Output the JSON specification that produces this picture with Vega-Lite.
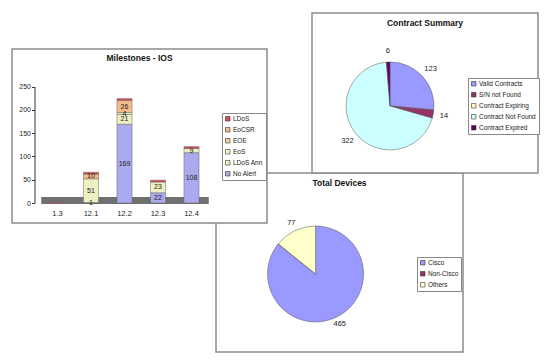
{
  "$schema": "https://vega.github.io/schema/vega-lite/v6.json",
  "padding": {"left": 11, "top": 12, "right": 0, "bottom": 0},
  "background": "white",
  "config": {"view": {"stroke": null}, "font": "Liberation Sans"},
  "columns": 3,
  "align": "none",
  "bounds": "flush",
  "spacing": {"row": -303, "column": -151},
  "resolve": {
    "scale": {"color": "independent", "theta": "independent", "x": "independent", "y": "independent"},
    "legend": {"color": "independent"}
  },
  "concat": [
    {"width": 355, "height": 1, "data": {"values": []}, "mark": "point", "encoding": {}},
    {
      "width": 247,
      "height": 179,
      "view": {"fill": "white", "stroke": "#8c8c8c", "strokeWidth": 1.5},
      "title": {"text": "Total Devices", "offset": -14.5, "frame": "group", "fontSize": 8.5, "fontWeight": "bold", "font": "Liberation Sans", "color": "#111"},
      "data": {"values": [
        {"device": "Cisco", "count": 465, "rank": 1},
        {"device": "Non-Cisco", "count": 0, "rank": 2},
        {"device": "Others", "count": 77, "rank": 3}
      ]},
      "encoding": {
        "theta": {"field": "count", "type": "quantitative", "stack": true},
        "order": {"field": "rank", "type": "quantitative"},
        "x": {"datum": "Total Devices", "type": "nominal", "scale": {"type": "point", "padding": 0, "align": 0.403}, "axis": null},
        "y": {"datum": "Total Devices", "type": "nominal", "scale": {"type": "point", "padding": 0, "align": 0.564}, "axis": null}
      },
      "layer": [
        {
          "mark": {"type": "arc", "outerRadius": 48, "stroke": "#555", "strokeWidth": 0.5},
          "encoding": {
            "color": {
              "field": "device", "type": "nominal",
              "scale": {"domain": ["Cisco", "Non-Cisco", "Others"], "range": ["#9999FF", "#993366", "#FFFFCC"]},
              "legend": {"title": null, "orient": "none", "legendX": 201, "legendY": 84, "symbolType": "square", "symbolSize": 20, "symbolStrokeColor": "#333", "symbolStrokeWidth": 0.6, "labelFontSize": 6.5, "labelFont": "Liberation Sans", "labelColor": "#222", "strokeColor": "#888", "fillColor": "white", "padding": 2.5, "rowPadding": 3, "labelOffset": 2}
            }
          }
        },
        {
          "transform": [{"filter": "datum.count > 0"}],
          "mark": {"type": "text", "radius": 56, "fontSize": 7.5, "color": "#222", "font": "Liberation Sans"},
          "encoding": {"text": {"field": "count", "type": "quantitative"}}
        }
      ]
    },
    {"width": 1, "height": 1, "data": {"values": []}, "mark": "point", "encoding": {}},
    {
      "width": 255,
      "height": 174,
      "view": {"fill": "white", "stroke": "#8c8c8c", "strokeWidth": 1.5},
      "title": {"text": "Milestones - IOS", "offset": -13.5, "frame": "group", "fontSize": 8.5, "fontWeight": "bold", "font": "Liberation Sans", "color": "#111"},
      "data": {"values": [
        {"version": "1.3", "status": "LDoS", "count": 2, "rank": 6},
        {"version": "12.1", "status": "No Alert", "count": 1, "rank": 1},
        {"version": "12.1", "status": "LDoS Ann", "count": 51, "rank": 2},
        {"version": "12.1", "status": "EoCSR", "count": 10, "rank": 5},
        {"version": "12.1", "status": "LDoS", "count": 4, "rank": 6},
        {"version": "12.2", "status": "No Alert", "count": 169, "rank": 1},
        {"version": "12.2", "status": "LDoS Ann", "count": 21, "rank": 2},
        {"version": "12.2", "status": "EoS", "count": 4, "rank": 3},
        {"version": "12.2", "status": "EoCSR", "count": 26, "rank": 5},
        {"version": "12.2", "status": "LDoS", "count": 4, "rank": 6},
        {"version": "12.3", "status": "No Alert", "count": 22, "rank": 1},
        {"version": "12.3", "status": "LDoS Ann", "count": 23, "rank": 2},
        {"version": "12.3", "status": "LDoS", "count": 4, "rank": 6},
        {"version": "12.4", "status": "No Alert", "count": 108, "rank": 1},
        {"version": "12.4", "status": "LDoS Ann", "count": 9, "rank": 2},
        {"version": "12.4", "status": "LDoS", "count": 4, "rank": 6}
      ]},
      "encoding": {
        "x": {
          "field": "version", "type": "nominal", "sort": ["1.3", "12.1", "12.2", "12.3", "12.4"],
          "scale": {"range": [28.75, 196.25], "paddingInner": 0.55, "paddingOuter": 0.275},
          "axis": {"title": null, "labelAngle": 0, "offset": -23, "domainColor": "#707070", "domainWidth": 7, "ticks": false, "labelPadding": 9, "labelFontSize": 7.5, "labelColor": "#222", "labelFont": "Liberation Sans"}
        }
      },
      "layer": [
        {
          "mark": {"type": "bar", "stroke": "#666", "strokeWidth": 0.5},
          "encoding": {
            "y": {
              "field": "count", "type": "quantitative", "stack": "zero",
              "scale": {"domain": [0, 250], "range": [154, 37.5], "nice": false},
              "axis": {"title": null, "values": [0, 50, 100, 150, 200, 250], "tickCount": 6, "labelOverlap": false, "offset": -22.5, "grid": false, "tickSize": 3, "labelPadding": 1, "labelFontSize": 7, "labelFont": "Liberation Sans", "domainColor": "#333", "tickColor": "#333", "labelColor": "#222"}
            },
            "color": {
              "field": "status", "type": "nominal",
              "scale": {"domain": ["LDoS", "EoCSR", "EOE", "EoS", "LDoS Ann", "No Alert"], "range": ["#E34A5A", "#F2BC88", "#F7CF9E", "#F6F6CC", "#EEF0C2", "#AAAAEE"]},
              "legend": {"title": null, "orient": "none", "legendX": 210, "legendY": 64, "symbolType": "square", "symbolSize": 20, "symbolStrokeColor": "#333", "symbolStrokeWidth": 0.6, "labelFontSize": 6.5, "labelFont": "Liberation Sans", "labelColor": "#222", "strokeColor": "#888", "fillColor": "white", "padding": 2.5, "rowPadding": 3, "labelOffset": 2}
            },
            "order": {"field": "rank", "type": "quantitative"}
          }
        },
        {
          "transform": [
            {"stack": "count", "groupby": ["version"], "sort": [{"field": "rank", "order": "ascending"}], "as": ["lo", "hi"]},
            {"fold": ["lo", "hi"], "as": ["edge", "pos"]},
            {"aggregate": [{"op": "mean", "field": "pos", "as": "mid"}], "groupby": ["version", "status", "count"]},
            {"filter": "datum.status !== 'LDoS'"}
          ],
          "mark": {"type": "text", "fontSize": 7, "color": "#222", "font": "Liberation Sans"},
          "encoding": {
            "y": {
              "field": "mid", "type": "quantitative",
              "scale": {"domain": [0, 250], "range": [154, 37.5], "nice": false},
              "axis": {"title": null, "values": [0, 50, 100, 150, 200, 250], "tickCount": 6, "labelOverlap": false, "offset": -22.5, "grid": false, "tickSize": 3, "labelPadding": 1, "labelFontSize": 7, "labelFont": "Liberation Sans", "domainColor": "#333", "tickColor": "#333", "labelColor": "#222"}
            },
            "text": {"field": "count", "type": "quantitative"}
          }
        }
      ]
    },
    {"width": 1, "height": 267, "data": {"values": []}, "mark": "point", "encoding": {}},
    {"width": 1, "height": 1, "data": {"values": []}, "mark": "point", "encoding": {}},
    {"width": 1, "height": 1, "data": {"values": []}, "mark": "point", "encoding": {}},
    {"width": 1, "height": 1, "data": {"values": []}, "mark": "point", "encoding": {}},
    {
      "width": 226,
      "height": 160,
      "view": {"fill": "white", "stroke": "#8c8c8c", "strokeWidth": 1.5},
      "title": {"text": "Contract Summary", "offset": -14.5, "frame": "group", "fontSize": 8.5, "fontWeight": "bold", "font": "Liberation Sans", "color": "#111"},
      "data": {"values": [
        {"status": "Valid Contracts", "count": 123, "rank": 1},
        {"status": "S/N not Found", "count": 14, "rank": 2},
        {"status": "Contract Expiring", "count": 0, "rank": 3},
        {"status": "Contract Not Found", "count": 322, "rank": 4},
        {"status": "Contract Expired", "count": 6, "rank": 5}
      ]},
      "encoding": {
        "theta": {"field": "count", "type": "quantitative", "stack": true},
        "order": {"field": "rank", "type": "quantitative"},
        "x": {"datum": "Contract Summary", "type": "nominal", "scale": {"type": "point", "padding": 0, "align": 0.345}, "axis": null},
        "y": {"datum": "Contract Summary", "type": "nominal", "scale": {"type": "point", "padding": 0, "align": 0.581}, "axis": null}
      },
      "layer": [
        {
          "mark": {"type": "arc", "outerRadius": 44, "stroke": "#555", "strokeWidth": 0.5},
          "encoding": {
            "color": {
              "field": "status", "type": "nominal",
              "scale": {"domain": ["Valid Contracts", "S/N not Found", "Contract Expiring", "Contract Not Found", "Contract Expired"], "range": ["#9999FF", "#993366", "#FFFFCC", "#CCFFFF", "#660066"]},
              "legend": {"title": null, "orient": "none", "legendX": 156, "legendY": 65, "symbolType": "square", "symbolSize": 20, "symbolStrokeColor": "#333", "symbolStrokeWidth": 0.6, "labelFontSize": 6.5, "labelFont": "Liberation Sans", "labelColor": "#222", "strokeColor": "#888", "fillColor": "white", "padding": 2.5, "rowPadding": 3, "labelOffset": 2}
            }
          }
        },
        {
          "transform": [{"filter": "datum.count > 0"}],
          "mark": {"type": "text", "radius": 55, "fontSize": 7.5, "color": "#222", "font": "Liberation Sans"},
          "encoding": {"text": {"field": "count", "type": "quantitative"}}
        }
      ]
    }
  ]
}
